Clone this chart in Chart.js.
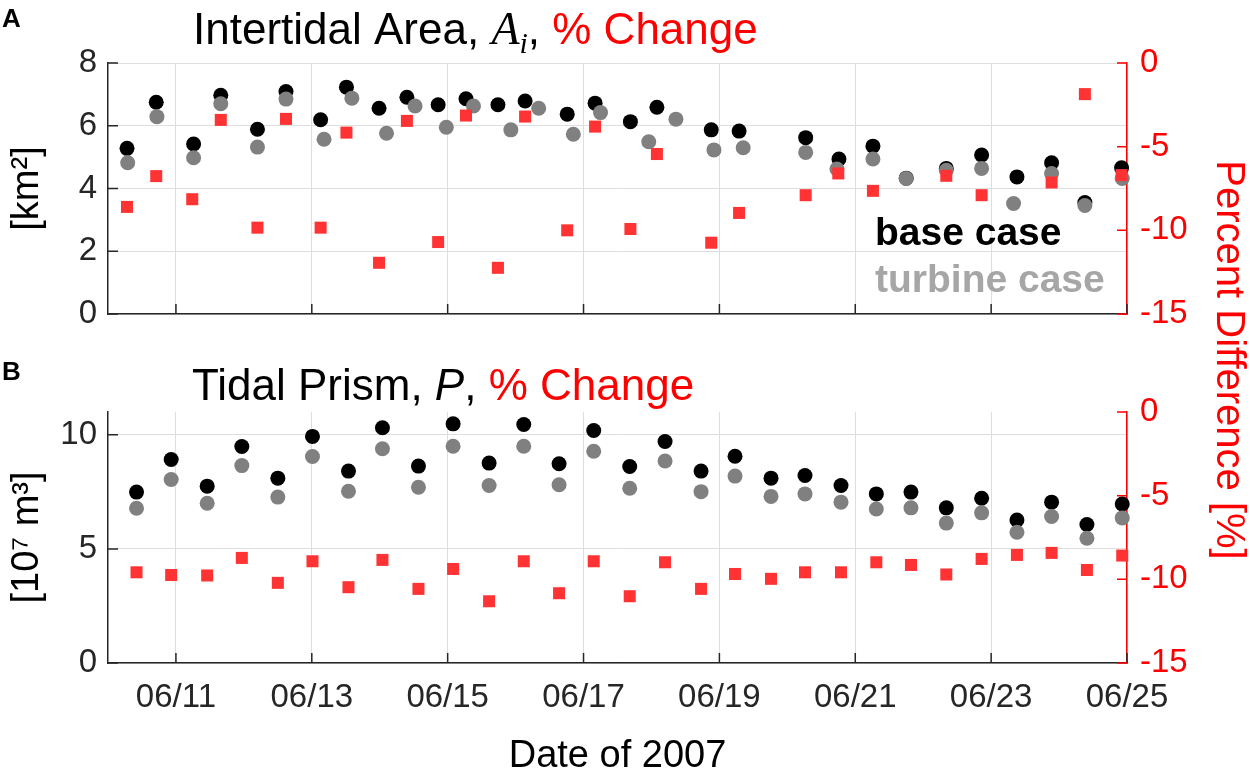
<!DOCTYPE html>
<html lang="en">
<head>
<meta charset="UTF-8">
<title>Intertidal Area and Tidal Prism, % Change</title>
<script src="https://cdn.jsdelivr.net/npm/chart.js@4.4.1/dist/chart.umd.js"></script>
<style>
  html, body { margin: 0; padding: 0; background: #fff; }
  #wrap { position: relative; width: 1250px; height: 776px; }
  #wrap canvas { position: absolute; left: 0; top: 0; }
</style>
</head>
<body>
<div id="wrap">
  <canvas id="chartA" width="1250" height="776"></canvas>
  <canvas id="chartB" width="1250" height="776"></canvas>
</div>
<script>
// x values are days of June 2007 (fractional)
const xTickDays = [11, 13, 15, 17, 19, 21, 23, 25];
const areaTicks = [0, 2, 4, 6, 8];
const prismTicks = [0, 5, 10];
const pctTicks = [-15, -10, -5, 0];

// Panel A: intertidal area [km2]
const areaBaseDay = [10.28, 10.71, 11.26, 11.66, 12.20, 12.62, 13.13, 13.51, 13.99, 14.40,
  14.86, 15.27, 15.74, 16.14, 16.76, 17.17, 17.69, 18.08, 18.88, 19.29,
  20.27, 20.76, 21.26, 21.75, 22.34, 22.86, 23.38, 23.89, 24.38, 24.92];
const areaBase = [5.28, 6.75, 5.42, 6.97, 5.89, 7.09, 6.19, 7.23, 6.56, 6.91,
  6.67, 6.86, 6.67, 6.79, 6.37, 6.72, 6.13, 6.59, 5.87, 5.83,
  5.62, 4.94, 5.35, 4.33, 4.64, 5.07, 4.37, 4.82, 3.55, 4.66];
const areaTurbDay = [10.29, 10.72, 11.26, 11.66, 12.20, 12.62, 13.18, 13.59, 14.10, 14.52,
  14.98, 15.38, 15.93, 16.34, 16.85, 17.25, 17.96, 18.36, 18.92, 19.35,
  20.27, 20.73, 21.26, 21.75, 22.34, 22.86, 23.33, 23.89, 24.38, 24.93];
const areaTurb = [4.82, 6.29, 4.98, 6.70, 5.32, 6.85, 5.57, 6.88, 5.76, 6.63,
  5.95, 6.63, 5.87, 6.56, 5.73, 6.42, 5.49, 6.21, 5.23, 5.30,
  5.15, 4.62, 4.94, 4.32, 4.58, 4.64, 3.52, 4.48, 3.46, 4.32];
const areaPctDay = [10.28, 10.71, 11.24, 11.66, 12.20, 12.62, 13.13, 13.51, 13.99, 14.40,
  14.86, 15.27, 15.74, 16.14, 16.76, 17.17, 17.69, 18.08, 18.88, 19.29,
  20.27, 20.75, 21.26, 22.34, 22.86, 23.89, 24.38, 24.92];
const areaPct = [-8.6, -6.76, -8.14, -3.4, -9.84, -3.34, -9.84, -4.16, -11.94, -3.46,
  -10.7, -3.14, -12.24, -3.2, -10.0, -3.8, -9.92, -5.44, -10.74, -8.96,
  -7.9, -6.6, -7.64, -6.74, -7.9, -7.14, -1.86, -6.7];

// Panel B: tidal prism [1e7 m3]
const prismDay = [10.42, 10.93, 11.46, 11.97, 12.50, 13.01, 13.54, 14.04, 14.57, 15.08,
  15.61, 16.12, 16.64, 17.15, 17.68, 18.20, 18.73, 19.23, 19.76, 20.26,
  20.79, 21.31, 21.82, 22.34, 22.86, 23.38, 23.89, 24.41, 24.93];
const prismBase = [7.49, 8.92, 7.75, 9.49, 8.10, 9.93, 8.41, 10.31, 8.63, 10.48,
  8.76, 10.45, 8.73, 10.19, 8.61, 9.71, 8.41, 9.06, 8.10, 8.22,
  7.78, 7.41, 7.49, 6.80, 7.22, 6.27, 7.05, 6.07, 6.97];
const prismTurb = [6.78, 8.04, 7.00, 8.65, 7.27, 9.05, 7.53, 9.39, 7.70, 9.50,
  7.78, 9.50, 7.81, 9.28, 7.66, 8.85, 7.51, 8.19, 7.30, 7.41,
  7.05, 6.75, 6.80, 6.13, 6.58, 5.73, 6.42, 5.47, 6.36];
const prismPct = [-9.58, -9.74, -9.77, -8.72, -10.21, -8.92, -10.47, -8.84, -10.57, -9.38,
  -11.31, -8.92, -10.83, -8.92, -11.01, -8.98, -10.57, -9.68, -9.97, -9.58,
  -9.58, -8.98, -9.14, -9.71, -8.78, -8.54, -8.42, -9.44, -8.58];

const FONT = 'Liberation Sans';
const AXIS = '#262626';
const GRID = '#dedede';
const RED = '#ff0000';
const SQUARE = '#ff3333';

Chart.defaults.font.family = FONT;
Chart.defaults.color = AXIS;

function pts(xs, ys) {
  return xs.map((x, i) => ({ x: x, y: ys[i] }));
}

function setTicks(values) {
  return function (scale) { scale.ticks = values.map(v => ({ value: v })); };
}

// draw a line of mixed-style text runs starting at (x, y) baseline
function drawRuns(ctx, x, y, runs) {
  ctx.textBaseline = 'alphabetic';
  ctx.textAlign = 'left';
  runs.forEach(r => {
    ctx.font = r.font;
    ctx.fillStyle = r.color;
    ctx.fillText(r.text, x, y + (r.dy || 0));
    x += ctx.measureText(r.text).width;
  });
}

// MATLAB-style tick marks pointing into the plot
const inwardTicks = {
  id: 'inwardTicks',
  beforeDatasetsDraw(chart) {
    const { ctx, chartArea: a, scales } = chart;
    const len = 10;
    ctx.save();
    ctx.lineWidth = 1.5;
    ctx.strokeStyle = AXIS;
    ctx.beginPath();
    scales.x.ticks.forEach(t => {
      const px = scales.x.getPixelForValue(t.value);
      ctx.moveTo(px, a.bottom);
      ctx.lineTo(px, a.bottom - len);
    });
    scales.y.ticks.forEach(t => {
      const py = scales.y.getPixelForValue(t.value);
      ctx.moveTo(a.left, py);
      ctx.lineTo(a.left + len, py);
    });
    ctx.stroke();
    ctx.strokeStyle = RED;
    ctx.beginPath();
    scales.y1.ticks.forEach(t => {
      const py = scales.y1.getPixelForValue(t.value);
      ctx.moveTo(a.right, py);
      ctx.lineTo(a.right - len, py);
    });
    ctx.stroke();
    ctx.restore();
  }
};

// titles, panel letters, legend text and the shared right label
const annotations = {
  id: 'annotations',
  afterDraw(chart) {
    const ctx = chart.ctx;
    const o = chart.options.plugins.annotations;
    ctx.save();
    drawRuns(ctx, 2, o.letterY, [{ text: o.letter, font: 'bold 26px ' + FONT, color: '#000' }]);
    drawRuns(ctx, o.titleX, o.titleY, o.titleRuns);
    if (o.legend) {
      ctx.font = 'bold 39px ' + FONT;
      ctx.fillStyle = '#000';
      ctx.fillText('base case', 875, 245);
      ctx.fillStyle = '#a6a6a6';
      ctx.fillText('turbine case', 875, 292);
    }
    if (o.rightLabel) {
      ctx.translate(1228, 360);
      ctx.rotate(Math.PI / 2);
      ctx.font = '40px ' + FONT;
      ctx.fillStyle = RED;
      ctx.textAlign = 'center';
      ctx.textBaseline = 'middle';
      ctx.fillText('Percent Difference [%]', 0, 0);
    }
    ctx.restore();
  }
};

function makePanel(id, cfg) {
  return new Chart(document.getElementById(id), {
    type: 'scatter',
    data: {
      datasets: [
        { label: '% change', data: pts(cfg.pctDay, cfg.pct), yAxisID: 'y1', order: 0,
          pointStyle: 'rect', pointRadius: 8.5, backgroundColor: SQUARE, borderWidth: 0 },
        { label: 'turbine case', data: pts(cfg.turbDay, cfg.turb), yAxisID: 'y', order: 1,
          pointStyle: 'circle', pointRadius: 7.5, backgroundColor: '#808080', borderWidth: 0 },
        { label: 'base case', data: pts(cfg.baseDay, cfg.base), yAxisID: 'y', order: 2,
          pointStyle: 'circle', pointRadius: 7.5, backgroundColor: '#000000', borderWidth: 0 }
      ]
    },
    options: {
      responsive: false,
      animation: false,
      events: [],
      clip: false,
      layout: { padding: { top: cfg.top, left: 0, right: 0, bottom: 0 } },
      plugins: {
        legend: { display: false },
        tooltip: { enabled: false },
        annotations: cfg.notes
      },
      scales: {
        x: {
          type: 'linear', min: 10, max: 25,
          afterBuildTicks: setTicks(xTickDays),
          afterFit: s => { s.height = 776 - cfg.bottom; },
          grid: { color: GRID, lineWidth: 1, drawTicks: false },
          border: { color: AXIS, width: 1.5 },
          ticks: {
            display: cfg.showX, padding: 15, color: AXIS,
            font: { size: 33 },
            callback: v => '06/' + v
          },
          title: {
            display: cfg.showX, text: 'Date of 2007', color: '#000',
            font: { size: 38, lineHeight: 1 }, padding: { top: 0, bottom: 0 }
          }
        },
        y: {
          position: 'left', min: 0, max: cfg.yMax,
          afterBuildTicks: setTicks(cfg.yTicks),
          afterFit: s => { s.width = 108; },
          grid: { color: GRID, lineWidth: 1, drawTicks: false },
          border: { color: AXIS, width: 1.5 },
          ticks: { padding: 11, color: AXIS, font: { size: 33 } },
          title: {
            display: true, text: cfg.yTitle, color: '#000',
            font: { size: 38, lineHeight: 1 }, padding: { top: 9, bottom: 0 }
          }
        },
        y1: {
          position: 'right', min: -15, max: 0,
          afterBuildTicks: setTicks(pctTicks),
          afterFit: s => { s.width = 1250 - 1127; },
          grid: { drawOnChartArea: false, drawTicks: false },
          border: { color: RED, width: 1.5 },
          ticks: { padding: 13, color: RED, font: { size: 33 } }
        }
      }
    },
    plugins: [inwardTicks, annotations]
  });
}

makePanel('chartA', {
  top: 63, bottom: 314, showX: false, yMax: 8, yTicks: areaTicks, yTitle: '[km²]',
  baseDay: areaBaseDay, base: areaBase, turbDay: areaTurbDay, turb: areaTurb,
  pctDay: areaPctDay, pct: areaPct,
  notes: {
    letter: 'A', letterY: 27, titleX: 193, titleY: 44, legend: true,
    titleRuns: [
      { text: 'Intertidal Area, ', font: '44px ' + FONT, color: '#000' },
      { text: 'A', font: 'italic 46px Liberation Serif', color: '#000' },
      { text: 'i', font: 'italic 30px Liberation Serif', color: '#000', dy: 9 },
      { text: ', ', font: '44px ' + FONT, color: '#000' },
      { text: '% Change', font: '44px ' + FONT, color: RED }
    ]
  }
});

makePanel('chartB', {
  top: 412, bottom: 663, showX: true, yMax: 11, yTicks: prismTicks, yTitle: '[10⁷ m³]',
  baseDay: prismDay, base: prismBase, turbDay: prismDay, turb: prismTurb,
  pctDay: prismDay, pct: prismPct,
  notes: {
    letter: 'B', letterY: 380, titleX: 192, titleY: 400, rightLabel: true,
    titleRuns: [
      { text: 'Tidal Prism, ', font: '44px ' + FONT, color: '#000' },
      { text: 'P', font: 'italic 44px ' + FONT, color: '#000' },
      { text: ', ', font: '44px ' + FONT, color: '#000' },
      { text: '% Change', font: '44px ' + FONT, color: RED }
    ]
  }
});
</script>
</body>
</html>
